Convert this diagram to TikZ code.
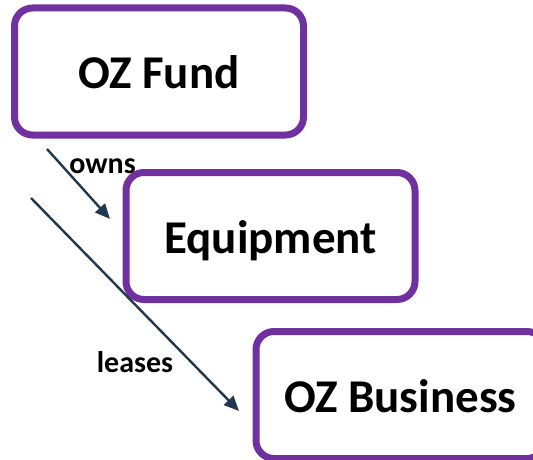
\documentclass[tikz,border=0pt]{standalone}
\usepackage{fontspec}
\setmainfont{Carlito}
\usetikzlibrary{arrows.meta}

\definecolor{ozpurple}{RGB}{112,48,160}
\definecolor{ozslate}{RGB}{31,56,78}

\begin{document}
\begin{tikzpicture}[x=1pt,y=-1pt,>={Triangle[length=15pt,width=13pt]},
  entity/.style={draw=ozpurple,line width=7pt,rounded corners=18pt,fill=white,
    minimum width=289pt,minimum height=127pt,inner sep=0pt,
    font=\bfseries\fontsize{47}{50}\selectfont,text height=34pt,text depth=0pt},
  flow/.style={->,draw=ozslate,line width=2.4pt},
  verb/.style={font=\bfseries\fontsize{30}{34}\selectfont,inner sep=0pt}]
  % --- page frame ---
  \useasboundingbox (0,0) rectangle (533,460);
  \clip (0,0) rectangle (533,460);
  % --- the three boxes, stepping down to the right ---
  \node[entity] (fund)  at (159,71.5) {OZ Fund};
  \node[entity] (equip) at (270.5,236) {Equipment};
  \node[entity] (biz)   at (400.5,395) {OZ Business};
  % --- loose arrow ends ---
  \coordinate (ownsA)   at (47,149);
  \coordinate (ownsB)   at (110,219);
  \coordinate (leasesA) at (31,198);
  \coordinate (leasesB) at (239,411);
  \draw[flow] (ownsA) -- (ownsB);
  \draw[flow] (leasesA) -- (leasesB);
  % --- arrow labels ---
  \node[verb] (owns)   at (102.5,166) {owns};
  \node[verb] (leases) at (135,362)   {leases};
\end{tikzpicture}
\end{document}
